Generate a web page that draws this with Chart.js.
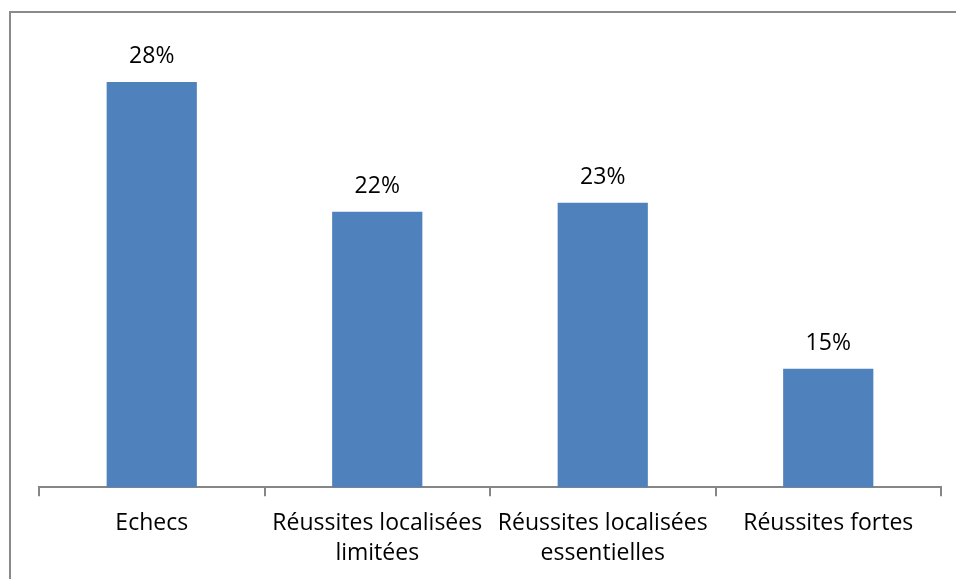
<!DOCTYPE html>
<html>
<head>
<meta charset="utf-8">
<script src="https://cdn.jsdelivr.net/npm/chart.js@4.4.1/dist/chart.umd.min.js"></script>
<style>
  html, body { margin: 0; padding: 0; background: #fff; }
  #wrap { width: 956px; height: 579px; position: relative; }
</style>
</head>
<body>
<div id="wrap"><canvas id="barChart"></canvas></div>
<script>
const categories = [
  "Echecs",
  ["Réussites localisées", "limitées"],
  ["Réussites localisées", "essentielles"],
  "Réussites fortes"
];
const shares = [27.8, 22.1, 22.5, 15.2];

// ==========================
// frame (top + left edge)
// ==========================
const framePlugin = {
  id: "frame",
  beforeDraw(chart) {
    const ctx = chart.ctx;
    ctx.save();
    ctx.fillStyle = "#fff";
    ctx.fillRect(0, 0, chart.width, chart.height);
    ctx.fillStyle = "#8a8a8a";
    ctx.fillRect(9, 11, chart.width - 9, 2);
    ctx.fillRect(9, 11, 2, chart.height - 11);
    ctx.restore();
  }
};

// ==========================
// value labels above bars
// ==========================
const valueLabels = {
  id: "valueLabels",
  afterDatasetsDraw(chart) {
    const ctx = chart.ctx;
    const meta = chart.getDatasetMeta(0);
    ctx.save();
    ctx.font = "23px 'Open Sans'";
    ctx.fillStyle = "#000";
    ctx.textAlign = "center";
    ctx.textBaseline = "alphabetic";
    meta.data.forEach((bar, i) => {
      ctx.fillText(Math.round(shares[i]) + "%", bar.x, bar.y - 19);
    });
    ctx.restore();
  }
};

new Chart(document.getElementById("barChart"), {
  type: "bar",
  data: {
    labels: categories,
    datasets: [{
      data: shares,
      backgroundColor: "#4F81BD",
      barPercentage: 0.4,
      categoryPercentage: 1
    }]
  },
  options: {
    responsive: true,
    maintainAspectRatio: false,
    animation: false,
    layout: { padding: { left: 39, right: 15, top: 32, bottom: -1 } },
    plugins: {
      legend: { display: false },
      tooltip: { enabled: false }
    },
    scales: {
      y: {
        display: false,
        min: 10,
        max: 30
      },
      x: {
        offset: true,
        border: { color: "#868686", width: 2 },
        grid: {
          offset: true,
          drawOnChartArea: false,
          drawTicks: true,
          tickLength: 9,
          color: "#868686",
          lineWidth: 2
        },
        ticks: {
          color: "#000",
          padding: 12,
          maxRotation: 0,
          autoSkip: false,
          font: { family: "'Open Sans'", size: 23, lineHeight: 1.3 }
        }
      }
    }
  },
  plugins: [framePlugin, valueLabels]
});
</script>
</body>
</html>
